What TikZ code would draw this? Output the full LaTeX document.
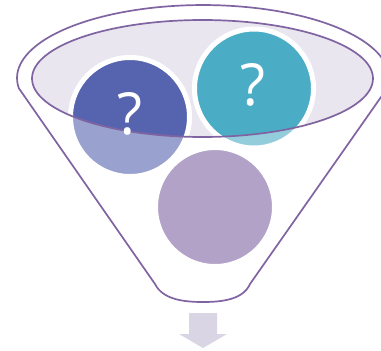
\documentclass[tikz,border=0pt]{standalone}
\usepackage{fontspec}
\newfontfamily\qfont{Open Sans}
\usetikzlibrary{shapes.geometric}

\definecolor{funnelline}{HTML}{8064A2}
\definecolor{rimfill}{HTML}{E9E6EF}
\definecolor{ballblue}{HTML}{5664B0}
\definecolor{ballteal}{HTML}{4BACC6}
\definecolor{ballpurple}{HTML}{8064A2}
\definecolor{arrowfill}{HTML}{D9D5E5}

% outline of the funnel, top rim arc plus the cone
\newcommand{\funnelshape}{(387.2,88.2) arc[start angle=-8,end angle=188,x radius=186pt,y radius=73pt]
  -- (155,284) .. controls (163,300) and (185,302) .. (203,302)
  .. controls (221,302) and (243,300) .. (250,284) -- cycle}

\begin{document}
\begin{tikzpicture}[
    x=1pt,y=-1pt,
    ball/.style={circle,draw=white,line width=5pt,minimum size=119pt,inner sep=0pt},
    qmark/.style={text=white,font=\qfont\fontsize{58}{58}\selectfont,inner sep=0pt},
    rim/.style={ellipse,minimum width=341pt,minimum height=117pt,inner sep=0pt}
]
    \useasboundingbox (0,0) rectangle (381,351);

    % funnel body and rim
    \fill[white] \funnelshape;
    \node[rim,fill=rimfill] (rimback) at (202.5,78.5) {};

    % balls inside the funnel
    \node[ball,fill=ballblue] (b1) at (130,117) {};
    \node[ball,fill=ballteal] (b2) at (254,88.5) {};
    \node[ball,fill=ballpurple] (b3) at (215,207) {};

    % glass of the cone fades what lies below the rim
    \fill[white,opacity=0.4,even odd rule] \funnelshape (202.5,78.5) ellipse[x radius=170.5pt,y radius=58.5pt];

    \node[rim,draw=funnelline,line width=1.7pt] (rim) at (202.5,78.5) {};
    \draw[funnelline,line width=1.7pt,line join=round] \funnelshape;

    \node[qmark] (q1) at (130,114) {?};
    \node[qmark] (q2) at (253,85) {?};

    % output arrow
    \fill[arrowfill] (189,313) -- (217,313) -- (217,334) -- (227,334) -- (203,348) -- (179,334) -- (189,334) -- cycle;
\end{tikzpicture}
\end{document}
